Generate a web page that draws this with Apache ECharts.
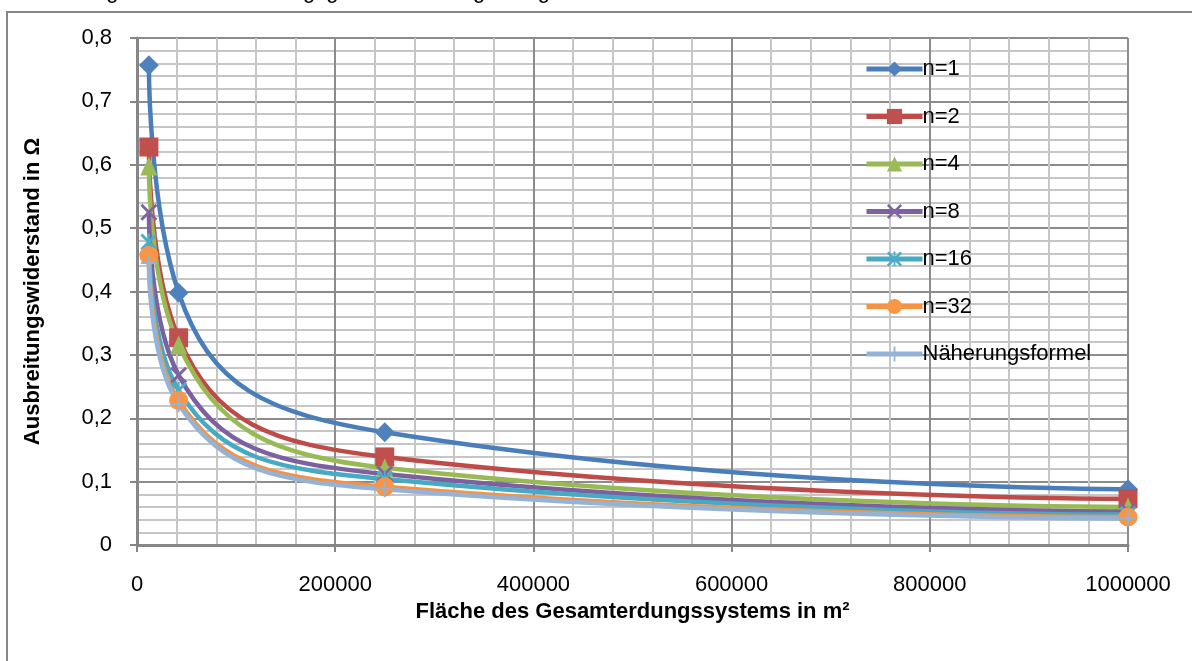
<!DOCTYPE html>
<html>
<head>
<meta charset="utf-8">
<script src="https://cdn.jsdelivr.net/npm/echarts@6/dist/echarts.min.js"></script>
<style>
  html, body { margin: 0; padding: 0; background: #fff; }
  #box { width: 1192px; height: 661px; }
</style>
</head>
<body>
<div id="box"></div>
<script>
// Daten
var flaeche = [12000, 42000, 250000, 1000000];
var seriesNames = ['n=1', 'n=2', 'n=4', 'n=8', 'n=16', 'n=32', 'Näherungsformel'];
var n1 = [0.757, 0.398, 0.178, 0.088];
var n2 = [0.628, 0.327, 0.139, 0.073];
var n4 = [0.598, 0.316, 0.122, 0.060];
var n8 = [0.525, 0.268, 0.112, 0.053];
var n16 = [0.478, 0.244, 0.104, 0.048];
var n32 = [0.457, 0.228, 0.092, 0.044];
var naeherung = [0.445, 0.222, 0.088, 0.042];
var yTicks = [0, 0.1, 0.2, 0.3, 0.4, 0.5, 0.6, 0.7, 0.8];
var xTicks = [0, 200000, 400000, 600000, 800000, 1000000];

var werte = [n1, n2, n4, n8, n16, n32, naeherung];
var linien = ['#4A7EBB', '#BE4B48', '#98B954', '#7D60A0', '#46AAC5', '#F69240', '#95B3D7'];
var marker = ['#4F81BD', '#C0504D', '#9BBB59', '#8064A2', '#4BACC6', '#F79646', '#95B3D7'];
var xPath = 'M0,1.2 L1.2,0 L5,3.8 L8.8,0 L10,1.2 L6.2,5 L10,8.8 L8.8,10 L5,6.2 L1.2,10 L0,8.8 L3.8,5 Z';
var symbole = [
  'diamond', 'rect', 'triangle',
  'path://' + xPath,
  'path://' + xPath + ' M4.4,0 L5.6,0 L5.6,10 L4.4,10 Z',
  'circle',
  'path://M4.4,0 L5.6,0 L5.6,4.4 L10,4.4 L10,5.6 L5.6,5.6 L5.6,10 L4.4,10 L4.4,5.6 L0,5.6 L0,4.4 L4.4,4.4 Z'
];
var groessen = [20, 19, [17, 19], 17, 17, 19, 16];

var chart = echarts.init(document.getElementById('box'));

var series = seriesNames.map(function (name, i) {
  return {
    name: name,
    type: 'line',
    smooth: 0.5,
    data: flaeche.map(function (x, k) { return [x, werte[i][k]]; }),
    symbol: symbole[i],
    symbolSize: groessen[i],
    showAllSymbol: true,
    lineStyle: { color: linien[i], width: 4.5 },
    itemStyle: { color: marker[i], borderWidth: 0 },
    emphasis: { disabled: true },
    animation: false
  };
});

var font = 'Liberation Sans, Arial, sans-serif';

option = {
  backgroundColor: '#fff',
  title: {
    text: 'Ansteigender Vermaschungsgrad der Erdungsanlage',
    left: 40,
    top: -24,
    textStyle: { fontFamily: font, fontSize: 22, fontWeight: 'normal', color: '#000' }
  },
  graphic: [{
    type: 'rect',
    shape: { x: 7, y: 12, width: 1200, height: 700 },
    style: { fill: 'none', stroke: '#868686', lineWidth: 2 },
    silent: true
  }],
  legend: {
    orient: 'vertical',
    left: 859,
    top: 53,
    itemWidth: 56,
    itemHeight: 19,
    itemGap: 25.5,
    data: seriesNames,
    lineStyle: { width: 5 },
    textStyle: { fontFamily: font, fontSize: 22, color: '#000', padding: [0, 0, 0, -5] }
  },
  grid: { left: 137, right: 64, top: 38, bottom: 116 },
  xAxis: {
    type: 'value',
    min: xTicks[0],
    max: xTicks[xTicks.length - 1],
    interval: xTicks[1] - xTicks[0],
    name: 'Fläche des Gesamterdungssystems in m²',
    nameLocation: 'middle',
    nameGap: 54,
    nameTextStyle: { fontFamily: font, fontSize: 22, fontWeight: 'bold', color: '#000' },
    axisLine: { lineStyle: { color: '#868686', width: 3 } },
    axisTick: { show: true, length: 7, lineStyle: { color: '#868686', width: 2 } },
    axisLabel: {
      margin: 29,
      fontFamily: font, fontSize: 22, color: '#000',
      formatter: function (v) { return String(v); }
    },
    splitLine: { show: true, lineStyle: { color: '#8c8c8c', width: 2 } },
    minorTick: { show: false, splitNumber: 5 },
    minorSplitLine: { show: true, lineStyle: { color: '#c6c6c6', width: 2 } }
  },
  yAxis: {
    type: 'value',
    min: yTicks[0],
    max: yTicks[yTicks.length - 1],
    interval: 0.1,
    name: 'Ausbreitungswiderstand in Ω',
    nameLocation: 'middle',
    nameGap: 93,
    nameTextStyle: { fontFamily: font, fontSize: 22, fontWeight: 'bold', color: '#000' },
    axisLine: { show: true, lineStyle: { color: '#868686', width: 3 } },
    axisTick: { show: true, length: 7, lineStyle: { color: '#868686', width: 2 } },
    axisLabel: {
      margin: 25,
      fontFamily: font, fontSize: 22, color: '#000',
      formatter: function (v) { return v === 0 ? '0' : v.toFixed(1).replace('.', ','); }
    },
    splitLine: { show: true, lineStyle: { color: '#8c8c8c', width: 2 } },
    minorTick: { show: false, splitNumber: 5 },
    minorSplitLine: { show: true, lineStyle: { color: '#c6c6c6', width: 2 } }
  },
  series: series
};

chart.setOption(option);
</script>
</body>
</html>
